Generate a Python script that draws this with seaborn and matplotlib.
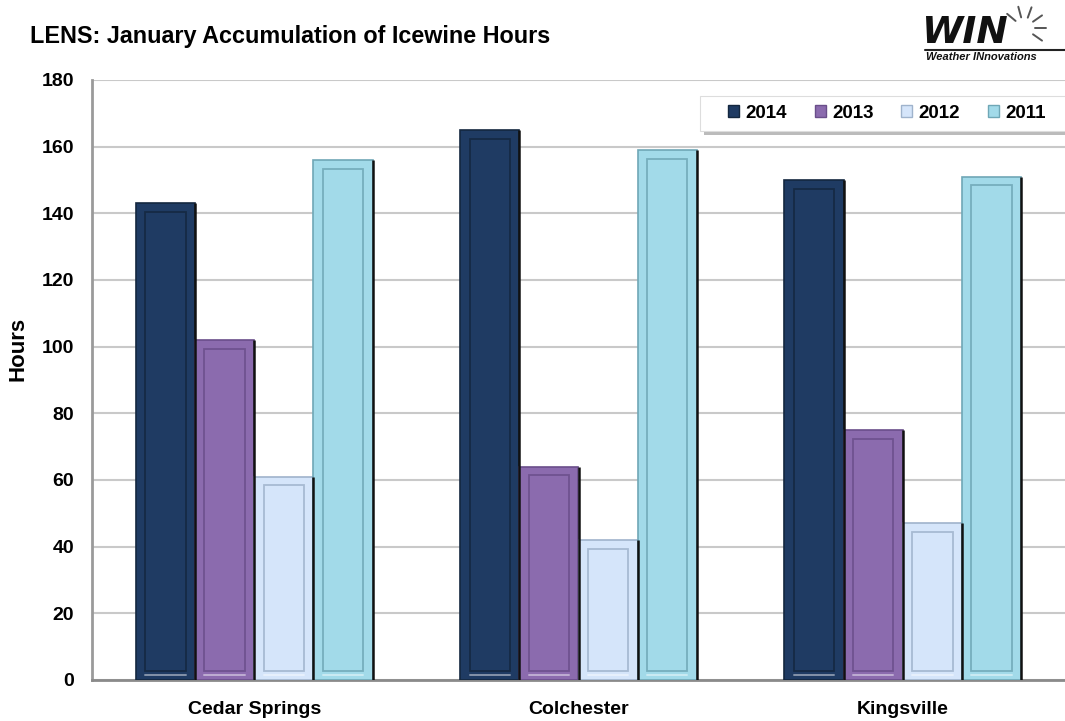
import matplotlib
matplotlib.use("Agg")
import matplotlib.pyplot as plt
import matplotlib.patches as mpatches
import seaborn as sns
import pandas as pd
import numpy as np

# ---- data ----
cities = ["Cedar Springs", "Colchester", "Kingsville"]
years = ["2014", "2013", "2012", "2011"]
hours_2014 = [143, 165, 150]
hours_2013 = [102, 64, 75]
hours_2012 = [61, 42, 47]
hours_2011 = [156, 159, 151]
y_ticks = [0, 20, 40, 60, 80, 100, 120, 140, 160, 180]

colors = ["#1F3B63", "#8B6BAE", "#D5E5FA", "#A2DAE9"]
edge_dark = ["#14273F", "#6A4E8A", "#9FB3CC", "#6FA7B6"]

series = {"2014": hours_2014, "2013": hours_2013, "2012": hours_2012, "2011": hours_2011}
rows = []
for y in years:
    for c, v in zip(cities, series[y]):
        rows.append({"City": c, "Year": y, "Hours": v})
df = pd.DataFrame(rows)

sns.set_style("white")
plt.rcParams["font.family"] = ["Liberation Sans", "DejaVu Sans"]
plt.rcParams["text.color"] = "black"
plt.rcParams["axes.labelcolor"] = "black"
plt.rcParams["xtick.color"] = "black"
plt.rcParams["ytick.color"] = "black"

W, H = 1065, 721
fig = plt.figure(figsize=(W / 100, H / 100), dpi=100)
ax = fig.add_axes([92 / W, 1 - 680 / H, 1 - 92 / W, 600 / H])

sns.barplot(data=df, x="City", y="Hours", hue="Year", order=cities,
            hue_order=years, palette=colors, width=0.73, dodge=True,
            saturation=1, ax=ax, legend=True, zorder=3,
            edgecolor="none", linewidth=0)

# bevel decoration derived from the drawn bars
for i, p in enumerate(ax.patches[:len(years) * len(cities)]):
    yi = i // len(cities)
    x0, y0 = p.get_x(), p.get_y()
    w, h = p.get_width(), p.get_height()
    ec = edge_dark[yi]
    ax.add_patch(mpatches.Rectangle((x0, y0), w, h, fill=False,
                                    edgecolor=ec, linewidth=1.2, zorder=4))
    ax.plot([x0 + w, x0 + w], [y0, y0 + h], color="#111111", lw=1.8,
            zorder=5, solid_capstyle="butt")
    dx = w * 0.16
    dy = 2.6
    if h > 2 * dy:
        ax.add_patch(mpatches.Rectangle((x0 + dx, y0 + dy), w - 2 * dx, h - 2 * dy,
                                        fill=False, edgecolor=ec, linewidth=1.3,
                                        zorder=4, alpha=0.85))
        ax.plot([x0 + dx, x0 + w - dx], [y0 + dy * 0.6, y0 + dy * 0.6],
                color="white", alpha=0.45, lw=1.4, zorder=5)

ax.set_ylim(0, 180)
ax.set_xlim(-0.5, 2.5)
ax.set_yticks(y_ticks)
ax.set_yticklabels([str(t) for t in y_ticks], fontsize=14, fontweight="bold")
ax.set_xticks(range(len(cities)))
ax.set_xticklabels(cities, fontsize=14, fontweight="bold")
ax.set_xticks([0.5, 1.5], minor=True)
ax.tick_params(axis="x", which="major", length=0, pad=15)
ax.tick_params(axis="x", which="minor", length=7, color="#888888", width=1.2,
               direction="out")
ax.tick_params(axis="y", which="major", length=7, color="#888888", width=1.2,
               pad=6, direction="out")
ax.yaxis.grid(True, color="#C9C9C9", linewidth=1.5, zorder=0)
ax.set_axisbelow(True)
for s in ["top", "right"]:
    ax.spines[s].set_visible(False)
ax.spines["left"].set_color("#9A9A9A")
ax.spines["left"].set_linewidth(2.0)
ax.spines["bottom"].set_color("#8A8A8A")
ax.spines["bottom"].set_linewidth(2.0)
ax.set_xlabel("")
ax.set_ylabel("Hours", fontsize=16, fontweight="bold")
ax.yaxis.set_label_coords(-(92 - 29) / (W - 92), (680 - 349) / 600)

# legend box (with shadow) drawn in figure coords, legend itself frameless
lx0, lx1, ly0, ly1 = 700, 1085, 96, 131
fig.add_artist(mpatches.Rectangle(((lx0 + 4) / W, 1 - (ly1 + 4) / H),
                                  (lx1 - lx0) / W, (ly1 - ly0) / H,
                                  transform=fig.transFigure, facecolor="#9E9E9E",
                                  edgecolor="none", zorder=8, alpha=0.7))
fig.add_artist(mpatches.Rectangle((lx0 / W, 1 - ly1 / H),
                                  (lx1 - lx0) / W, (ly1 - ly0) / H,
                                  transform=fig.transFigure, facecolor="white",
                                  edgecolor="#DDDDDD", lw=0.8, zorder=9))
handles, labels = ax.get_legend_handles_labels()
leg = fig.legend(handles, labels, ncol=4, loc="center left",
                 bbox_to_anchor=(728 / W, 1 - 113 / H),
                 frameon=False, prop={"weight": "bold", "size": 13.5},
                 handlelength=0.6, handleheight=0.6, handletextpad=0.35,
                 columnspacing=1.45, borderpad=0, borderaxespad=0)
leg.set_zorder(10)
if ax.get_legend() is not None:
    ax.get_legend().remove()
for hnd, ec in zip(leg.legend_handles, edge_dark):
    hnd.set_edgecolor(ec)
    hnd.set_linewidth(1)

# title
fig.text(30 / W, 1 - 37 / H, "LENS: January Accumulation of Icewine Hours",
         fontsize=16.8, fontweight="bold", va="center", ha="left")

# logo
cx, cy = 1024 / W, 1 - 28 / H
for ang in [0, 35, 70, 105, 140, -35]:
    a = np.deg2rad(ang)
    r0, r1 = 11, 22
    fig.add_artist(plt.Line2D([cx + r0 * np.cos(a) / W, cx + r1 * np.cos(a) / W],
                              [cy + r0 * np.sin(a) / H, cy + r1 * np.sin(a) / H],
                              color="#555555", lw=1.4, transform=fig.transFigure))
fig.text(922 / W, 1 - 33 / H, "WIN", fontsize=27, fontweight="heavy",
         fontstyle="italic", va="center", ha="left", color="#111111",
         family=["DejaVu Sans"], zorder=5)
fig.add_artist(plt.Line2D([925 / W, 1.0], [1 - 50 / H, 1 - 50 / H],
                          color="#222222", lw=1.5, transform=fig.transFigure))
fig.text(926 / W, 1 - 57 / H, "Weather INnovations", fontsize=8,
         fontweight="bold", fontstyle="italic", va="center", ha="left",
         color="#111111")

fig.savefig("out.png", dpi=100)
